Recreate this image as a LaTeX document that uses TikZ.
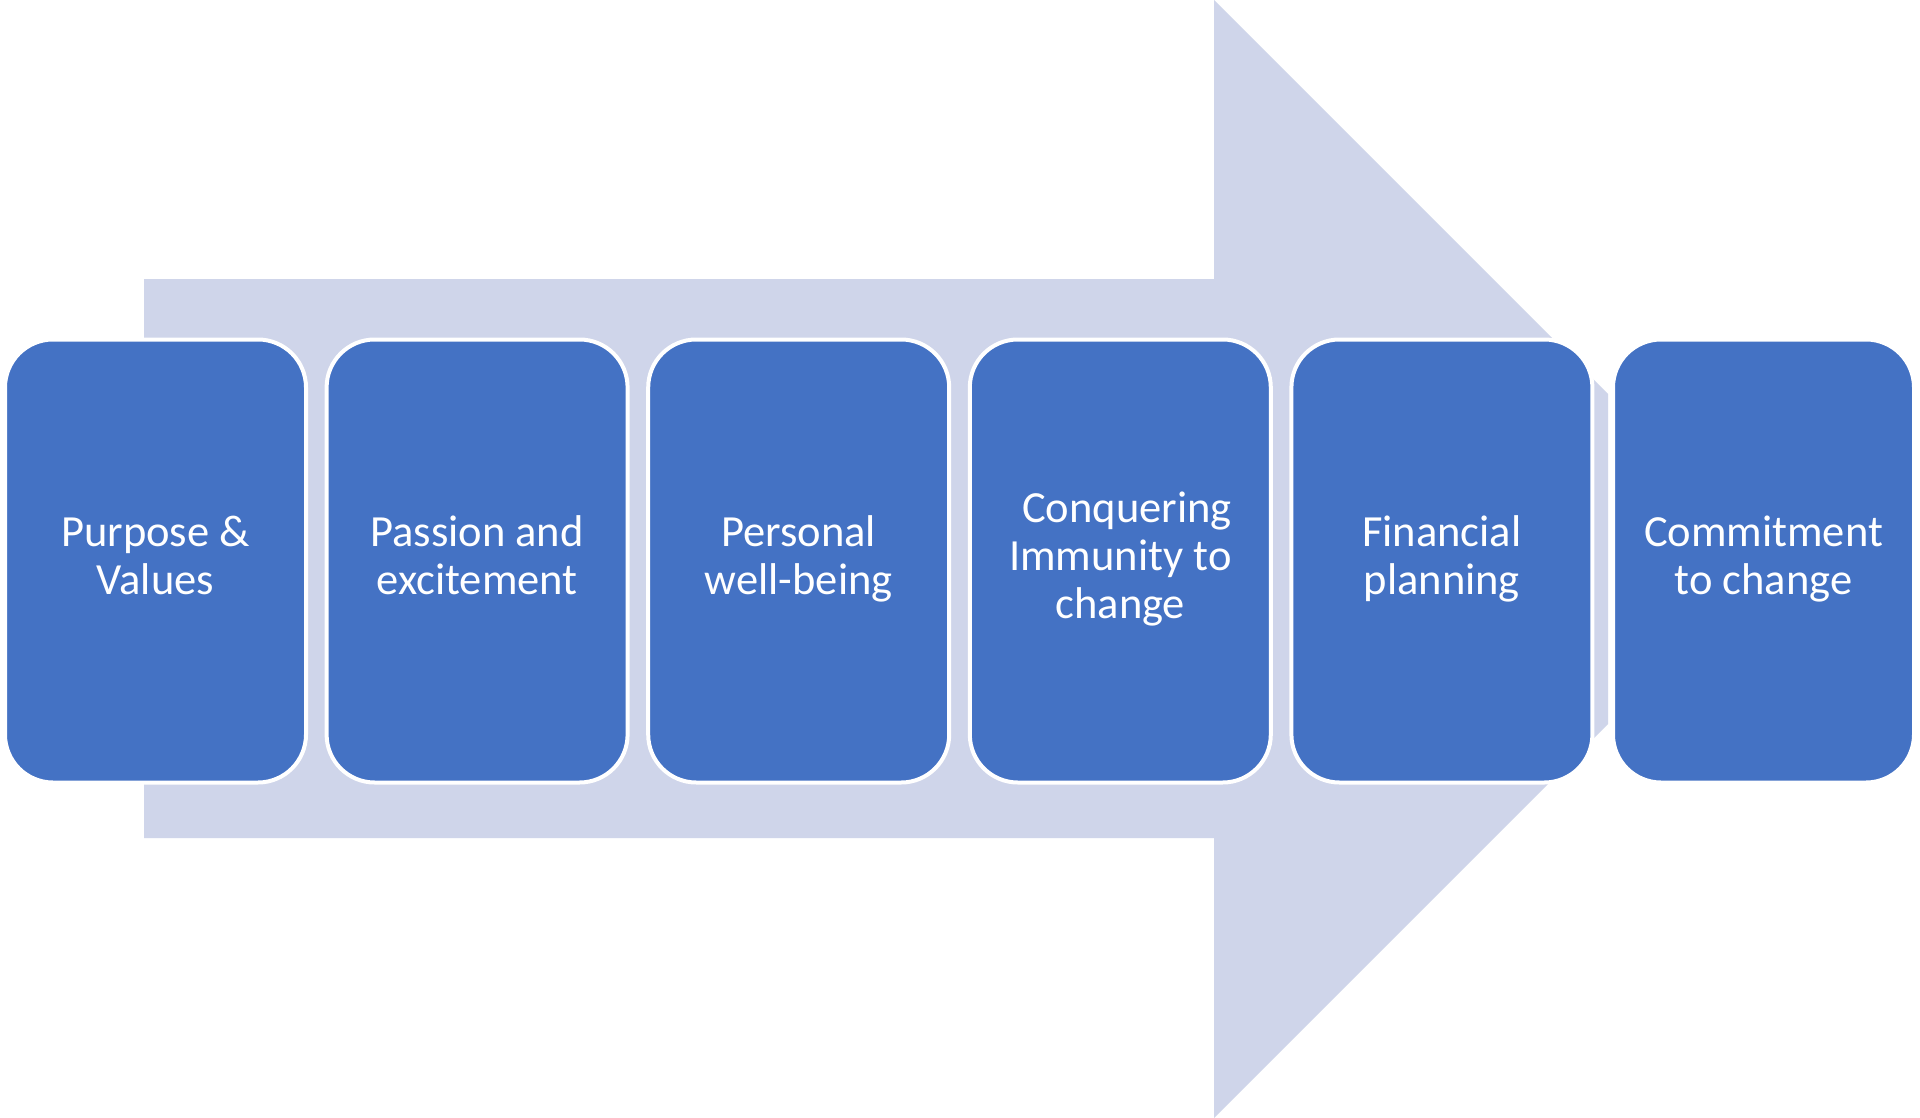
\documentclass[tikz,border=0pt]{standalone}
\usepackage{fontspec}
\setmainfont{Carlito}
\definecolor{boxblue}{HTML}{4472C4}
\definecolor{arrowfill}{HTML}{CFD5EA}
\begin{document}
\begin{tikzpicture}[x=1pt,y=-1pt,
  stepbox/.style={rectangle, rounded corners=48pt, fill=boxblue, draw=white,
    line width=4pt, minimum width=301pt, minimum height=443pt, inner sep=0pt,
    text=white, align=center,
    font=\fontsize{44.5pt}{48pt}\selectfont}]
\useasboundingbox (0,0) rectangle (1920,1118);
\fill[white] (0,0) rectangle (1920,1118);
\fill[arrowfill] (144,279) -- (1214,279) -- (1214,0) -- (1608,394) -- (1608,724)
  -- (1214,1118) -- (1214,838) -- (144,838) -- cycle;
\node[stepbox] (b1) at (155.5,561) {\strut Purpose \&\\Values\strut};
\node[stepbox] (b2) at (477.1,561) {\strut Passion and\\excitement\strut};
\node[stepbox] (b3) at (798.7,561) {\strut Personal\\well-being\strut};
\node[stepbox] (b4) at (1120.3,561) {\strut\hspace{0.3em}Conquering\\Immunity to\\change\strut};
\node[stepbox] (b5) at (1441.9,561) {\strut Financial\\planning\strut};
\node[stepbox] (b6) at (1763.5,561) {\strut Commitment\\to change\strut};
\end{tikzpicture}
\end{document}
